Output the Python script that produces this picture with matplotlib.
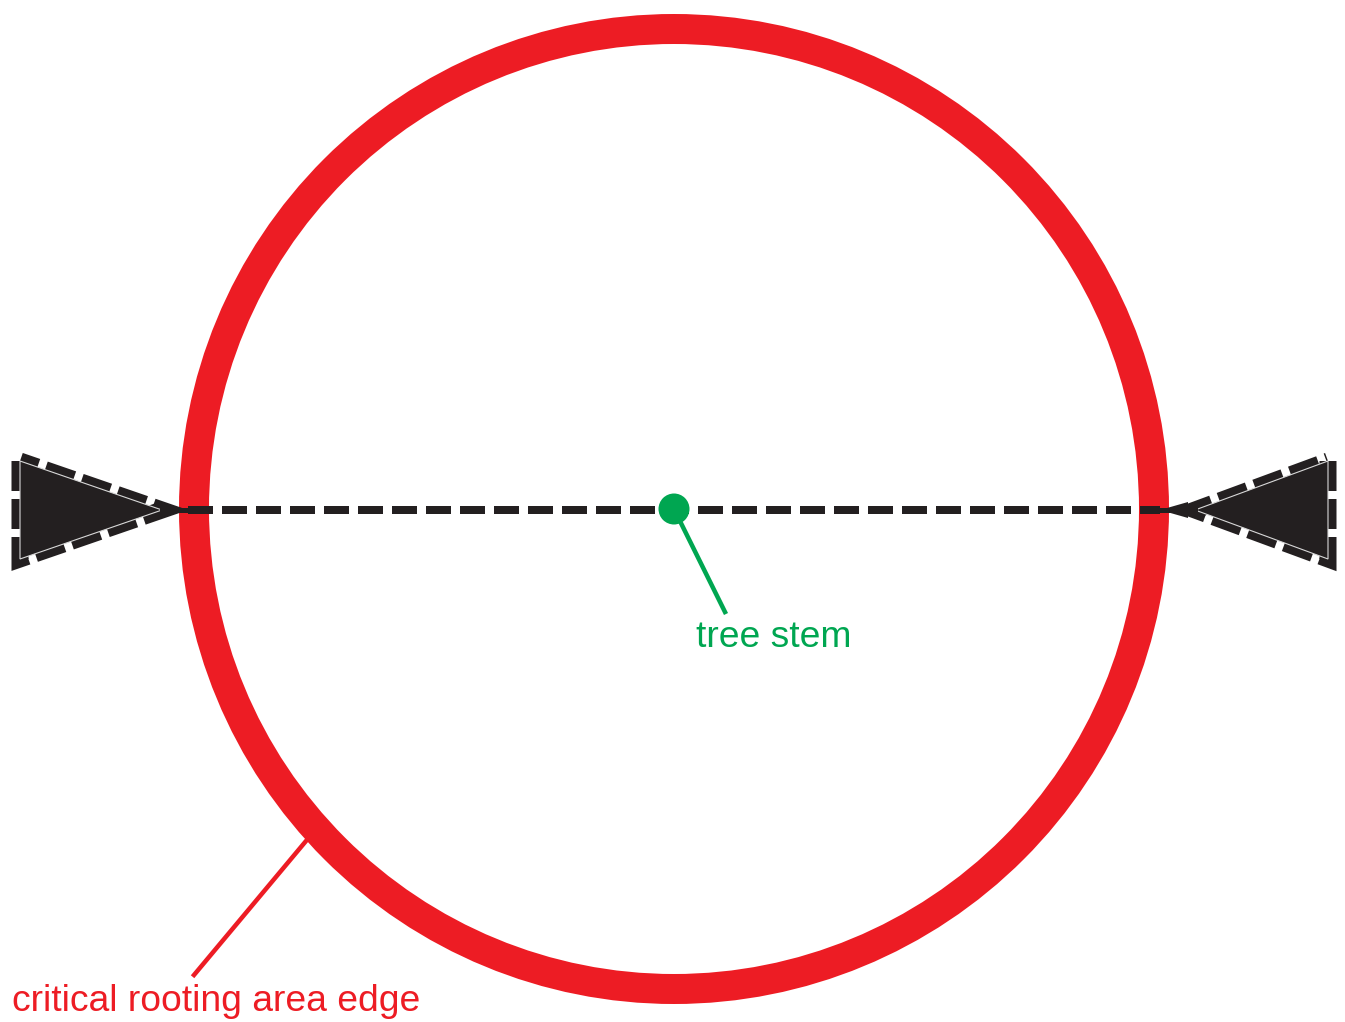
import matplotlib.pyplot as plt
from matplotlib.patches import Circle, Polygon

plt.rcParams['font.family'] = ['Liberation Sans', 'DejaVu Sans']
plt.rcParams['lines.scale_dashes'] = False

# diagram geometry (pixel units, y pointing down)
stem = (674, 509)
root_radius = 480
measure_y = 510
left_tip, right_tip = 188, 1160
left_base, right_base = 20, 1328
left_apex, right_apex = 162, 1195
labels = ['tree stem', 'critical rooting area edge']
label_pos = [(696, 647), (12, 1011)]
leader_from = [(674, 509), (194, 975)]
leader_to = [(725, 612), (306, 841)]

red = '#ED1C24'
green = '#00A651'
black = '#231F20'
px = 0.72  # points per pixel at dpi 100

fig = plt.figure(figsize=(13.45, 10.22), dpi=100)
ax = fig.add_axes([0, 0, 1, 1])
ax.set_xlim(0, 1345)
ax.set_ylim(1022, 0)
ax.axis('off')

# critical rooting area ring
ax.add_patch(Circle(stem, root_radius, fill=False, ec=red, lw=30 * px, zorder=1))

# measurement arrows
def big_arrow(base, apex, sign):
    h = 49
    tri = [(base, measure_y - h), (base, measure_y + h), (apex, measure_y)]
    # dashed border: wide stroke, inner half hidden under the fill
    ax.add_patch(Polygon(tri, closed=True, fill=False, ec=black, lw=17 * px, zorder=3,
                         joinstyle='miter', linestyle=(0, (30 * px, 8 * px))))
    ax.add_patch(Polygon(tri, closed=True, fc=black, ec='#d8d8d8', lw=0.8, zorder=3.5))
    tip = left_tip if sign > 0 else right_tip
    ax.plot([apex, tip], [measure_y, measure_y], color=black, lw=5 * px, zorder=3.6)
    back = tip - sign * 28
    ax.add_patch(Polygon([(back, measure_y - 8), (back, measure_y + 8), (tip, measure_y)],
                         closed=True, fc=black, ec='none', zorder=3.6))

big_arrow(left_base, left_apex, 1)
big_arrow(right_base, right_apex, -1)

ax.plot([left_tip, right_tip], [measure_y, measure_y], color=black, lw=8 * px,
        dashes=(25 * px, 9 * px), solid_capstyle='butt', dash_capstyle='butt', zorder=2)

# tree stem
ax.plot([leader_from[0][0], leader_to[0][0]], [leader_from[0][1], leader_to[0][1]],
        color=green, lw=4.5 * px, zorder=4)
ax.add_patch(Circle(stem, 15.5, fc=green, ec='none', zorder=5))

# rooting edge leader
ax.plot([leader_from[1][0], leader_to[1][0]], [leader_from[1][1], leader_to[1][1]],
        color=red, lw=4.5 * px, zorder=4)

for txt, (x, y), c in zip(labels, label_pos, [green, red]):
    ax.text(x, y, txt, color=c, fontsize=26.8, ha='left', va='baseline')

fig.savefig('out.png', dpi=100)
